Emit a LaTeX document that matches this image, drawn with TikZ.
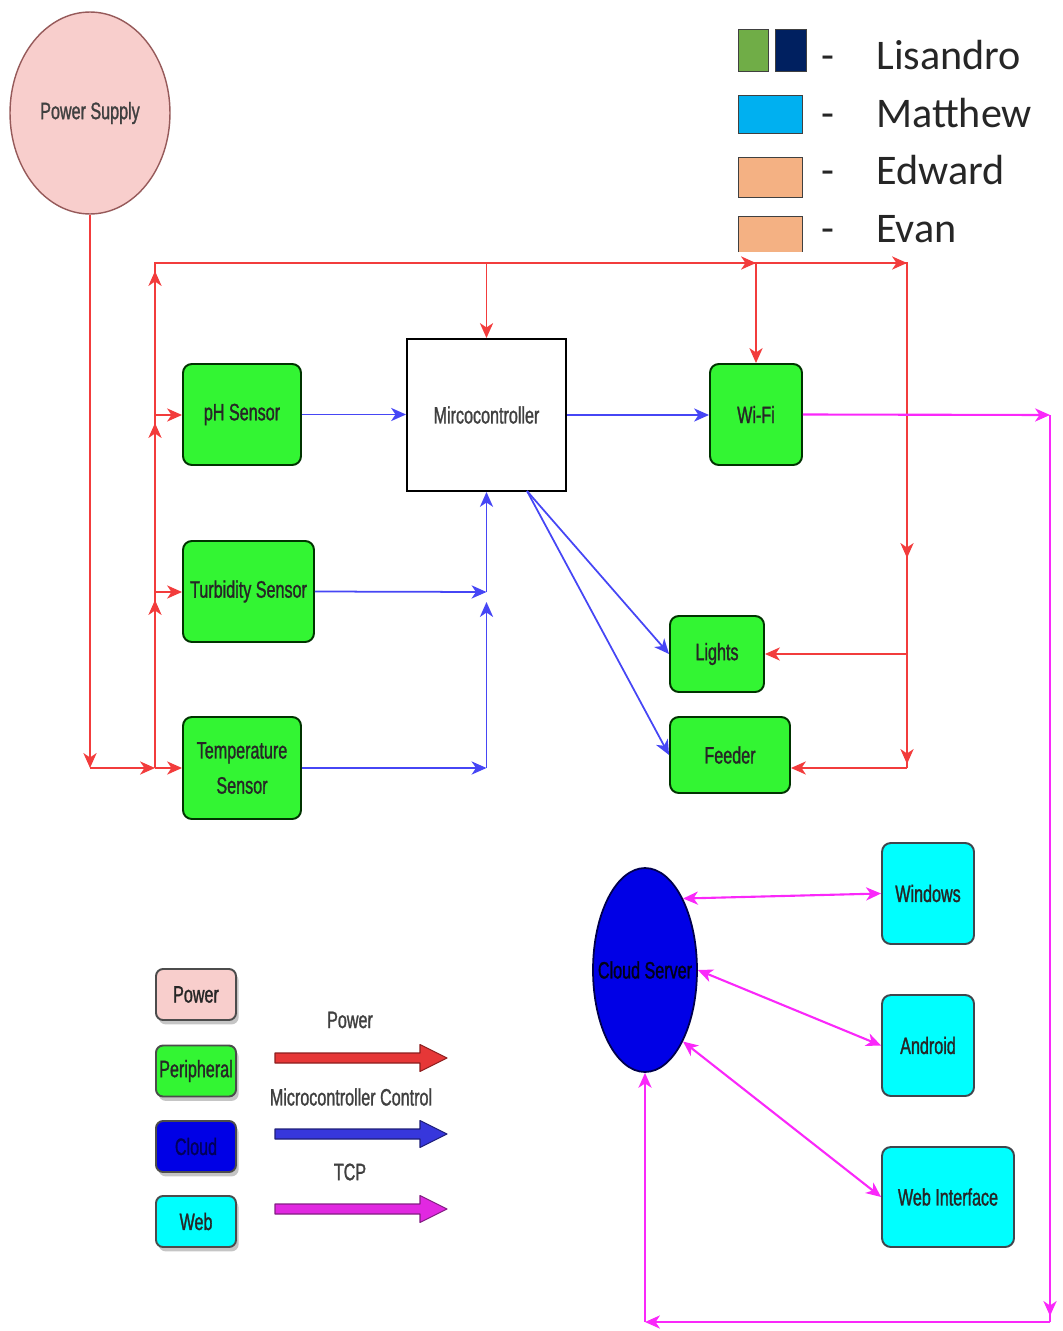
\documentclass[tikz,border=0pt]{standalone}
\usepackage{fontspec}
\setmainfont{Liberation Sans}
\newfontfamily\narrowfnt[FakeStretch=0.68,FakeBold=1.2]{Liberation Sans}
\newfontfamily\legfnt{Carlito}
\usetikzlibrary{arrows.meta,shapes.geometric,shadows,calc}
\definecolor{pwr}{RGB}{242,60,60}
\definecolor{ctl}{RGB}{70,70,245}
\definecolor{tcp}{RGB}{250,40,250}
\definecolor{psfill}{RGB}{248,206,204}
\definecolor{psdraw}{RGB}{150,90,90}
\definecolor{perfill}{RGB}{51,245,51}
\definecolor{webfill}{RGB}{0,255,255}
\definecolor{cloudfill}{RGB}{0,0,230}
\definecolor{lisg}{RGB}{112,173,71}
\definecolor{lisn}{RGB}{0,32,96}
\definecolor{matb}{RGB}{0,176,240}
\definecolor{peach}{RGB}{244,177,131}
\begin{document}
\begin{tikzpicture}[x=0.02cm,y=-0.02cm,
  lbl/.style={font=\narrowfnt\fontsize{13.5}{17}\selectfont, text=black!85, align=center, inner sep=0pt},
  gbox/.style={lbl, draw=green!20!black, line width=1.1pt, fill=perfill, rounded corners=5pt},
  wbox/.style={lbl, draw=cyan!20!black, line width=1.1pt, fill=webfill, rounded corners=5pt},
  legbox/.style={lbl, draw=black!70, line width=1.1pt, rounded corners=4pt, minimum width=1.6cm, minimum height=1.02cm,
     drop shadow={shadow xshift=1.5pt, shadow yshift=-2.5pt, fill=black!45, opacity=0.5}},
  arr/.style={-{Stealth[length=8.5pt,width=7.5pt,inset=2.5pt]}},
  arrr/.style={{Stealth[length=8.5pt,width=7.5pt,inset=2.5pt]}-{Stealth[length=8.5pt,width=7.5pt,inset=2.5pt]}},
  pw/.style={draw=pwr, line width=1pt},
  cw/.style={draw=ctl, line width=1pt},
  tw/.style={draw=tcp, line width=1.2pt},
  namefnt/.style={font=\legfnt\fontsize{24}{28}\selectfont, text=black!85, inner sep=0pt},
]
\useasboundingbox (0,0) rectangle (1062,1331);

% ---------- nodes ----------
\node[ellipse, draw=psdraw, line width=0.8pt, fill=psfill, minimum width=3.2cm, minimum height=4.04cm, inner sep=0pt,
      label={[lbl, text=black!75]center:Power Supply}] (ps) at (90,113) {};
\node[rectangle, draw=black, line width=1.1pt, fill=white, minimum width=3.18cm, minimum height=3.04cm, lbl, text=black!75] (mc) at (486.5,415) {Mircocontroller};
\node[gbox, minimum width=2.36cm, minimum height=2.02cm] (ph) at (242,414.5) {pH Sensor};
\node[gbox, minimum width=1.84cm, minimum height=2.02cm] (wifi) at (756,414.5) {Wi-Fi};
\node[gbox, minimum width=2.62cm, minimum height=2.02cm] (turb) at (248.5,591.5) {Turbidity Sensor};
\node[gbox, minimum width=2.36cm, minimum height=2.04cm] (temp) at (242,768) {Temperature\\[3pt]Sensor};
\node[gbox, minimum width=1.88cm, minimum height=1.52cm] (lights) at (717,654) {Lights};
\node[gbox, minimum width=2.4cm, minimum height=1.52cm] (feeder) at (730,755) {Feeder};
\node[ellipse, draw=black!70!blue, line width=1pt, fill=cloudfill, minimum width=2.08cm, minimum height=4.08cm, inner sep=0pt,
      label={[lbl, text=black!90!blue]center:Cloud Server}] (cs) at (645,970) {};
\node[wbox, minimum width=1.84cm, minimum height=2.02cm] (windows) at (928,893.5) {Windows};
\node[wbox, minimum width=1.84cm, minimum height=2.02cm] (android) at (928,1045.5) {Android};
\node[wbox, minimum width=2.64cm, minimum height=2.0cm] (web) at (948,1197) {Web Interface};

% ---------- top-right legend ----------
\filldraw[fill=lisg, draw=black!75, line width=0.5pt] (738,29) rectangle (768,71);
\filldraw[fill=lisn, draw=black!75, line width=0.5pt] (775,29) rectangle (806,71);
\filldraw[fill=matb, draw=black!75, line width=0.5pt] (738,95) rectangle (802,133);
\filldraw[fill=peach, draw=black!75, line width=0.5pt] (738,157) rectangle (802,197);
\fill[peach] (738,216) rectangle (802,252);
\draw[black!75, line width=0.5pt] (738,252) -- (738,216) -- (802,216) -- (802,252);
\node[namefnt, anchor=base] (d1) at (828,70) {-};
\node[namefnt, anchor=base] (d2) at (828,128) {-};
\node[namefnt, anchor=base] (d3) at (828,185) {-};
\node[namefnt, anchor=base] (d4) at (828,242) {-};
\node[namefnt, anchor=base west] (n1) at (876,70) {Lisandro};
\node[namefnt, anchor=base west] (n2) at (876,128) {Matthew};
\node[namefnt, anchor=base west] (n3) at (876,185) {Edward};
\node[namefnt, anchor=base west] (n4) at (876,242) {Evan};

% ---------- bottom-left legend ----------
\node[legbox, fill=psfill] (lpow) at (196,994.5) {Power};
\node[legbox, fill=perfill] (lper) at (196,1071) {Peripheral};
\node[legbox, fill=cloudfill, text={rgb,255:red,0;green,0;blue,90}] (lcld) at (196,1146.5) {Cloud};
\node[legbox, fill=webfill] (lweb) at (196,1221.5) {Web};
\node[lbl, text=black!75] (tpow) at (350,1020) {Power};
\node[lbl, text=black!75] (tctl) at (351,1097) {Microcontroller Control};
\node[lbl, text=black!75] (ttcp) at (350,1172) {TCP};
\filldraw[fill={rgb,255:red,230;green,55;blue,55}, draw={rgb,255:red,140;green,30;blue,30}, line width=0.6pt, line join=round]
  (275,1053) -- (420,1053) -- (420,1044.5) -- (447,1058) -- (420,1071.5) -- (420,1063) -- (275,1063) -- cycle;
\filldraw[fill={rgb,255:red,55;green,55;blue,220}, draw={rgb,255:red,30;green,30;blue,120}, line width=0.6pt, line join=round]
  (275,1129) -- (420,1129) -- (420,1120.5) -- (447,1134) -- (420,1147.5) -- (420,1139) -- (275,1139) -- cycle;
\filldraw[fill={rgb,255:red,225;green,40;blue,225}, draw={rgb,255:red,130;green,30;blue,130}, line width=0.6pt, line join=round]
  (275,1204) -- (420,1204) -- (420,1195.5) -- (447,1209) -- (420,1222.5) -- (420,1214) -- (275,1214) -- cycle;

% ---------- power wiring ----------
\coordinate (pA) at (90,768);
\coordinate (pB) at (155,768);
\coordinate (pC) at (155,592);
\coordinate (pD) at (155,415);
\coordinate (pE) at (155,263);
\coordinate (pM) at (486.5,263);
\coordinate (pW) at (756,263);
\coordinate (pF) at (907,263);
\coordinate (pV) at (907,558);
\coordinate (pL) at (907,654);
\coordinate (pV2) at (907,764);
\coordinate (pG) at (907,768);
\draw[pw,arr] (ps.south) -- (pA);
\draw[pw,arr] (pA) -- (pB);
\draw[pw,arr] (pB) -- (temp.west);
\draw[pw] (pB) -- (pE) -- (pF) -- (pG);
\draw[pw,arr] (pB) -- ($(pC)+(0,8)$);
\draw[pw,arr] (pC) -- ($(pD)+(0,8)$);
\draw[pw,arr] (pD) -- ($(pE)+(0,8)$);
\draw[pw,arr] (pC) -- (pC -| turb.west);
\draw[pw,arr] (pD) -- (pD -| ph.west);
\draw[pw,arr] (pE) -- (pW);
\draw[pw,arr] (pW) -- (pF);
\draw[pw,arr] (pM) -- (mc.north);
\draw[pw,arr] (pW) -- (wifi.north);
\draw[pw,arr] (pF) -- (pV);
\draw[pw,arr] (pV) -- (pV2);
\draw[pw,arr] (pL) -- (pL -| lights.east);
\draw[pw,arr] (pG) -- (pG -| feeder.east);

% ---------- control wiring ----------
\coordinate (bT) at (486.5,592);
\coordinate (bB) at (486.5,768);
\coordinate (mo) at (527,491);
\draw[cw,arr] (ph.east) -- (ph.east -| mc.west);
\draw[cw,arr] (mc.east) -- (mc.east -| wifi.west);
\draw[cw,arr] (turb.east) -- (bT);
\draw[cw,arr] (temp.east) -- (bB);
\draw[cw,arr] (bB) -- ($(bT)+(0,10)$);
\draw[cw,arr] (bT) -- (mc.south);
\draw[cw,arr] (mo) -- (lights.west);
\draw[cw,arr] (mo) -- (feeder.west);

% ---------- TCP wiring ----------
\coordinate (mR) at (1050,415);
\coordinate (mD) at (1050,1316);
\coordinate (mRB) at (1050,1322);
\coordinate (mL) at (645,1322);
\draw[tw,arr] (wifi.east) -- (mR);
\draw[tw] (mR) -- (mRB);
\draw[tw,arr] (mR) -- (mD);
\draw[tw,arr] (mRB) -- (mL);
\draw[tw,arr] (mL) -- (cs.south);
\draw[tw,arrr] (cs.62) -- (windows.west);
\draw[tw,arrr] (cs.east) -- (android.west);
\draw[tw,arrr] (cs.-62) -- (web.west);
\end{tikzpicture}
\end{document}
